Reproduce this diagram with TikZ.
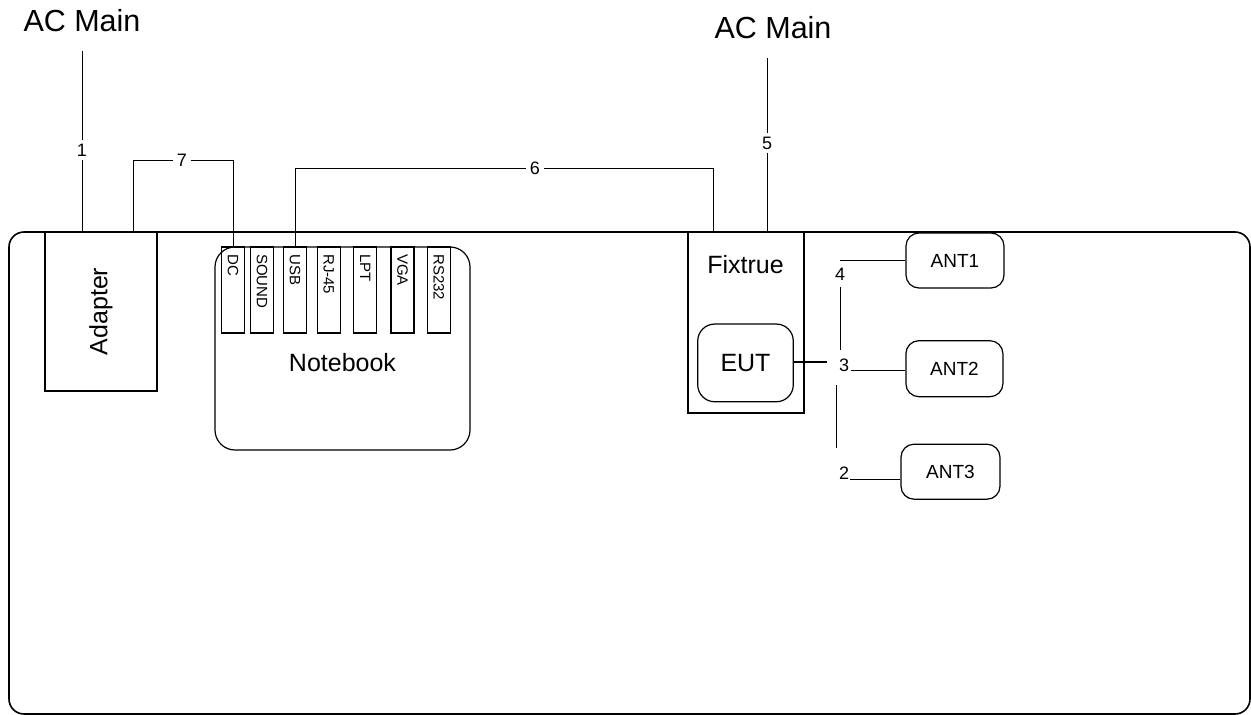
\documentclass[tikz,border=0pt]{standalone}
\usepackage{fontspec}
\setmainfont{Liberation Sans}
\begin{document}
\begin{tikzpicture}[x=1pt,y=-1pt,
  box/.style={draw, line width=1.2pt, inner sep=0pt},
  rbox/.style={box, rounded corners=#1},
  slot/.style={draw, line width=1.1pt, minimum width=23pt, minimum height=86pt, inner sep=0pt},
  slottext/.style={rotate=-90, anchor=west, inner sep=0pt, font=\fontsize{15}{18}\selectfont},
  big/.style={font=\fontsize{25}{30}\selectfont, inner sep=0pt},
  antlab/.style={font=\fontsize{19}{23}\selectfont, inner sep=0pt},
  numlab/.style={font=\fontsize{18}{22}\selectfont, fill=white, inner sep=4pt},
  numplain/.style={font=\fontsize{18}{22}\selectfont, inner sep=1pt},
  acl/.style={font=\fontsize{30.5}{36}\selectfont, inner sep=0pt},
  wire/.style={line width=0.9pt}]
\useasboundingbox (0,0) rectangle (1251,715);

% outer table
\draw[line width=1.6pt, rounded corners=15pt] (9,232) rectangle (1250,714);

% Adapter
\node[box, minimum width=112pt, minimum height=159pt] (adapter) at (101,311.5) {};
\node[big, rotate=90] (adaptertext) at (adapter.center) {Adapter};

% Notebook
\node[rbox=20pt, minimum width=255pt, minimum height=203pt] (nb) at (342.5,348.5) {};
\node[big] (nbtext) at (342.5,363) {Notebook};
\foreach \n/\x/\t in {dc/233/DC, snd/262/SOUND, usb/295/USB, rj/328.7/RJ-45, lpt/365.3/LPT, vga/402.5/VGA, rs/438.7/RS232} {
  \node[slot] (\n) at (\x,290) {};
  \node[slottext] (\n-t) at (\x,254) {\t};
}

% Fixtrue and EUT
\node[box, minimum width=116pt, minimum height=181pt] (fix) at (746,322.5) {};
\node[big] (fixtext) at (745.5,265) {Fixtrue};
\node[rbox=17pt, minimum width=95.6pt, minimum height=77.7pt, big] (eut) at (745.5,362.9) {EUT};

% Antennas
\node[rbox=13pt, minimum width=98pt, minimum height=55pt, antlab] (ant1) at (955,260.5) {ANT1};
\node[rbox=13pt, minimum width=97pt, minimum height=56pt, antlab] (ant2) at (954.4,368.7) {ANT2};
\node[rbox=13pt, minimum width=99pt, minimum height=55pt, antlab] (ant3) at (950.5,471.7) {ANT3};

% AC mains
\node[acl] (acl) at (82,21) {AC Main};
\node[acl] (acr) at (773,28) {AC Main};

% cable 1
\coordinate (c1top) at (82,51);
\draw[wire] (c1top) -- (c1top |- adapter.north);
\node[numlab] (n1) at (82,150) {1};

% cable 7
\coordinate (c7) at (133,160);
\draw[wire] (c7 |- adapter.north) -- (c7) -| (dc.north);
\node[numlab] (n7) at (182,160) {7};

% cable 6
\coordinate (c6) at (713,168);
\draw[wire] (usb.north) |- (c6) -- (c6 |- fix.north);
\node[numlab] (n6) at (535,168) {6};

% cable 5
\coordinate (c5top) at (767,58);
\draw[wire] (c5top) -- (c5top |- fix.north);
\node[numlab] (n5) at (767,143) {5};

% antenna cables
\node[numplain] (n4) at (840,274) {4};
\node[numplain] (n3) at (844,365) {3};
\node[numplain] (n2) at (844,473) {2};
\coordinate (c4) at (840,260);
\coordinate (c3) at (827,362);
\coordinate (c34a) at (840.3,287);
\coordinate (c34b) at (840.3,350);
\coordinate (c32a) at (836.7,385);
\coordinate (c32b) at (836.7,448);
\coordinate (c3r) at (851,370);
\coordinate (c2r) at (850,479);
\draw[line width=2pt] (eut.east |- c3) -- (c3);
\draw[wire] (c4) -- (c4 -| ant1.west);
\draw[wire] (c34a) -- (c34b);
\draw[wire] (c32a) -- (c32b);
\draw[wire] (c3r) -- (c3r -| ant2.west);
\draw[wire] (c2r) -- (c2r -| ant3.west);
\end{tikzpicture}
\end{document}
